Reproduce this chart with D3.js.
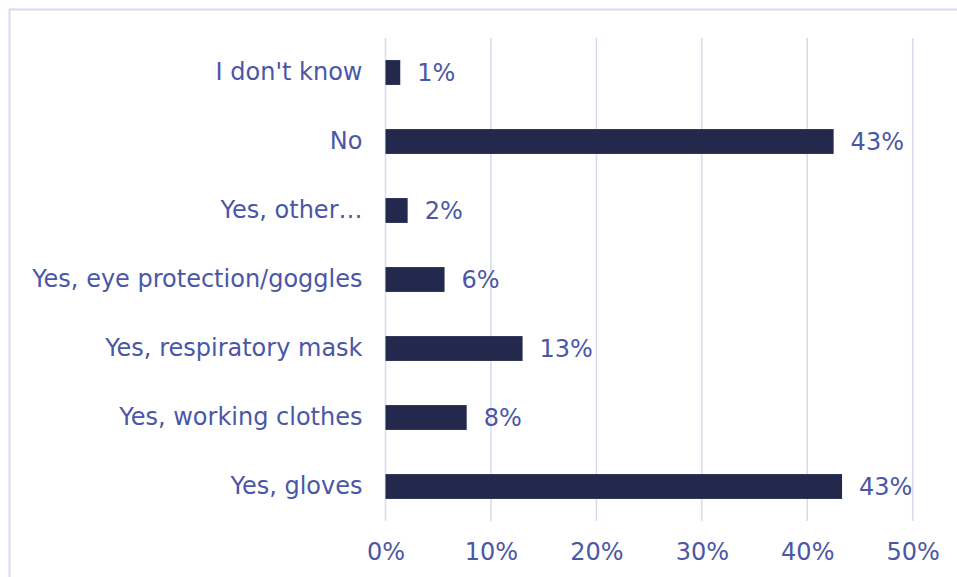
<!DOCTYPE html>
<html>
<head>
<meta charset="utf-8">
<script src="https://cdn.jsdelivr.net/npm/d3@7"></script>
<style>
  html, body { margin: 0; padding: 0; background: #ffffff; }
  svg { display: block; }
</style>
</head>
<body>
<svg id="chart" width="957" height="577"></svg>
<script>
// Survey answers, top to bottom
const categories = [
  "I don't know",
  "No",
  "Yes, other\u2026",
  "Yes, eye protection/goggles",
  "Yes, respiratory mask",
  "Yes, working clothes",
  "Yes, gloves"
];
// Share of respondents (%)
const values = [1.4, 42.5, 2.1, 5.6, 13.0, 7.7, 43.3];
// Axis ticks (%)
const tickValues = [0, 10, 20, 30, 40, 50];

const W = 957, H = 577;
const margin = { left: 385.5, right: 44.3, top: 38, bottom: 56 };
const textColor = "#4a57a6";
const barColor = "#23294d";
const gridColor = "#d7d9ee";
const font = "'DejaVu Sans', Verdana, sans-serif";
const fontSize = 24;

const svg = d3.select("#chart");

// Outer frame (only the top and left edges fall inside the view)
svg.append("rect")
  .attr("x", 9.5).attr("y", 9.5)
  .attr("width", W + 20).attr("height", H + 20)
  .attr("fill", "none")
  .attr("stroke", gridColor)
  .attr("stroke-width", 2);

const x = d3.scaleLinear().domain([0, 50]).range([margin.left, W - margin.right]);
const y = d3.scaleBand().domain(categories)
  .range([margin.top, H - margin.bottom])
  .paddingInner(0.64).paddingOuter(0.32);

// Vertical gridlines
svg.append("g")
  .selectAll("line")
  .data(tickValues)
  .join("line")
  .attr("x1", d => x(d)).attr("x2", d => x(d))
  .attr("y1", margin.top).attr("y2", H - margin.bottom)
  .attr("stroke", gridColor)
  .attr("stroke-width", 1.5);

// X axis tick labels
const xAxis = d3.axisBottom(x)
  .tickValues(tickValues)
  .tickFormat(d => d + "%")
  .tickSize(0)
  .tickPadding(0);
const gx = svg.append("g")
  .attr("transform", `translate(0,${H - margin.bottom + 31})`)
  .call(xAxis);
gx.select(".domain").remove();
gx.selectAll("text")
  .attr("fill", textColor)
  .attr("font-family", font)
  .attr("font-size", fontSize)
  .attr("dy", "0.35em");

// Category labels
const yAxis = d3.axisLeft(y).tickSize(0).tickPadding(23);
const gy = svg.append("g")
  .attr("transform", `translate(${margin.left},0)`)
  .call(yAxis);
gy.select(".domain").remove();
gy.selectAll("text")
  .attr("fill", textColor)
  .attr("font-family", font)
  .attr("font-size", fontSize);

// Bars
svg.append("g")
  .selectAll("rect")
  .data(categories)
  .join("rect")
  .attr("x", x(0))
  .attr("y", d => y(d))
  .attr("width", (d, i) => x(values[i]) - x(0))
  .attr("height", y.bandwidth())
  .attr("fill", barColor);

// Value labels
svg.append("g")
  .selectAll("text")
  .data(categories)
  .join("text")
  .attr("x", (d, i) => x(values[i]) + 17)
  .attr("y", d => y(d) + y.bandwidth() / 2)
  .attr("dy", "0.35em")
  .attr("fill", textColor)
  .attr("font-family", font)
  .attr("font-size", fontSize)
  .text((d, i) => Math.round(values[i]) + "%");
</script>
</body>
</html>
